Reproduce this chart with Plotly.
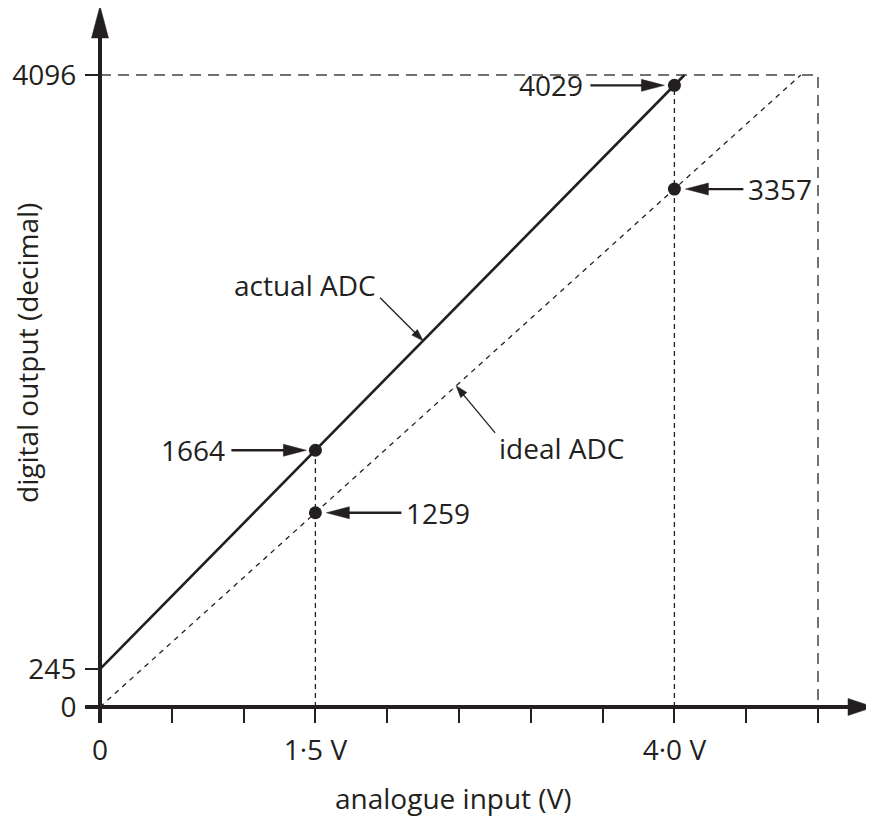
import numpy as np
import plotly.graph_objects as go

# ---------------- data ----------------
x_tick_vals = [0, 0.5, 1.0, 1.5, 2.0, 2.5, 3.0, 3.5, 4.0, 4.5, 5.0]
x_tick_text = ["0", "", "", "1·5 V", "", "", "", "", "4·0 V", "", ""]
y_tick_vals = [0, 245, 4096]
y_tick_text = ["0", "245", "4096"]

full_scale_v = 5.0
full_scale_code = 4096

marked_v = [1.5, 4.0]
actual_at_marked = [1664, 4029]
ideal_at_marked = [1259, 3357]

actual_x = [0, 1.5, 4.0, 4.07]
actual_y = [245, 1664, 4029, 4096]
ideal_x = [0, 1.5, 4.0, 4.88]
ideal_y = [0, 1259, 3357, 4096]

line_label_v = {"actual ADC": 2.25, "ideal ADC": 2.48}

# ---------------- geometry ----------------
PAGE_OFF = 8                      # default body margin of the page
W, H = 874 - PAGE_OFF, 818 - PAGE_OFF
ox_px, oy_px = 100 - PAGE_OFF, 707 - PAGE_OFF   # origin within the figure
px_per_v = 143.6
px_per_code = 632 / 4096
x_range = [-ox_px / px_per_v, (W - ox_px) / px_per_v]
y_range = [-(H - oy_px) / px_per_code, oy_px / px_per_code]

INK = "#231f20"
FONT = "Open Sans"
FS = 28

fig = go.Figure()

# dashed frame lines
fig.add_trace(go.Scatter(x=[0, full_scale_v, full_scale_v], y=[full_scale_code, full_scale_code, 0],
                         mode="lines", line=dict(color="#444", width=1.5, dash="11px,7px"),
                         hoverinfo="skip"))
# vertical guides
for v, c in zip(marked_v, actual_at_marked):
    fig.add_trace(go.Scatter(x=[v, v], y=[0, c], mode="lines",
                             line=dict(color=INK, width=1.3, dash="5px,4px"), hoverinfo="skip"))
# ideal line
fig.add_trace(go.Scatter(x=ideal_x, y=ideal_y, mode="lines",
                         line=dict(color=INK, width=1.3, dash="5px,5px"), hoverinfo="skip"))
# actual line
fig.add_trace(go.Scatter(x=actual_x, y=actual_y, mode="lines",
                         line=dict(color=INK, width=2.6), hoverinfo="skip"))
# dots
fig.add_trace(go.Scatter(x=marked_v + marked_v, y=actual_at_marked + ideal_at_marked, mode="markers",
                         marker=dict(color=INK, size=13), hoverinfo="skip"))

shapes = []


def arrow(xa, ya, tail, tip, head_len, head_half, width):
    """Arrow anchored at data point (xa, ya); tail/tip in pixel offsets (x right, y up)."""
    tx, ty = tail
    hx, hy = tip
    d = np.array([hx - tx, hy - ty], dtype=float)
    L = np.hypot(*d)
    u = d / L
    n = np.array([-u[1], u[0]])
    base = np.array([hx, hy]) - u * head_len
    shapes.append(dict(type="line", xref="x", yref="y", xsizemode="pixel", ysizemode="pixel",
                       xanchor=xa, yanchor=ya, x0=tx, y0=ty, x1=base[0] + u[0], y1=base[1] + u[1],
                       line=dict(color=INK, width=width), layer="above"))
    p1 = base + n * head_half
    p2 = base - n * head_half
    path = f"M{hx:.2f},{hy:.2f} L{p1[0]:.2f},{p1[1]:.2f} L{p2[0]:.2f},{p2[1]:.2f} Z"
    shapes.append(dict(type="path", xref="x", yref="y", xsizemode="pixel", ysizemode="pixel",
                       xanchor=xa, yanchor=ya, path=path, fillcolor=INK,
                       line=dict(color=INK, width=0.5), layer="above"))


# axes (thick lines with arrowheads)
shapes.append(dict(type="line", xref="x", yref="y", xsizemode="pixel", ysizemode="pixel",
                   xanchor=0, yanchor=0, x0=-15, y0=0, x1=752, y1=0,
                   line=dict(color=INK, width=4)))
shapes.append(dict(type="line", xref="x", yref="y", xsizemode="pixel", ysizemode="pixel",
                   xanchor=0, yanchor=0, x0=0, y0=-16, x1=0, y1=672,
                   line=dict(color=INK, width=4)))
shapes.append(dict(type="path", xref="x", yref="y", xsizemode="pixel", ysizemode="pixel",
                   xanchor=0, yanchor=0, path="M748,8.5 L774,0 L748,-8.5 Z", fillcolor=INK,
                   line=dict(color=INK, width=0.5)))
shapes.append(dict(type="path", xref="x", yref="y", xsizemode="pixel", ysizemode="pixel",
                   xanchor=0, yanchor=0, path="M-8.5,669 L0,701 L8.5,669 Z", fillcolor=INK,
                   line=dict(color=INK, width=0.5)))

annotations = []

# value call-outs
callouts = [
    (marked_v[0], actual_at_marked[0], "left", -88, (-84, 0), (-9, 0)),
    (marked_v[0], ideal_at_marked[0], "right", 89, (86, 0), (11, 0)),
    (marked_v[1], actual_at_marked[1], "left", -89, (-84, 0), (-10, 0)),
    (marked_v[1], ideal_at_marked[1], "right", 72, (69, 0), (11, 0)),
]
for xv, yv, side, shift, tail, tip in callouts:
    arrow(xv, yv, tail, tip, 23, 6, 2.3)
    annotations.append(dict(x=xv, y=yv, xref="x", yref="y", text=str(yv), showarrow=False,
                            xanchor="right" if side == "left" else "left", yanchor="middle",
                            xshift=shift, font=dict(family=FONT, size=FS, color=INK)))

# line labels
ax_v = line_label_v["actual ADC"]
ax_c = float(np.interp(ax_v, actual_x, actual_y))
arrow(ax_v, ax_c, (-43, 43), (0, 0), 12, 4, 1.3)
annotations.append(dict(x=ax_v, y=ax_c, xref="x", yref="y", text="actual ADC", showarrow=False,
                        xanchor="right", yanchor="middle", xshift=-45, yshift=56,
                        font=dict(family=FONT, size=FS, color=INK)))
id_v = line_label_v["ideal ADC"]
id_c = float(np.interp(id_v, ideal_x, ideal_y))
arrow(id_v, id_c, (39, -47), (0, 0), 12, 4, 1.3)
annotations.append(dict(x=id_v, y=id_c, xref="x", yref="y", text="ideal ADC", showarrow=False,
                        xanchor="left", yanchor="middle", xshift=41, yshift=-62,
                        font=dict(family=FONT, size=FS, color=INK)))

# axis titles (positions given in page pixels)
annotations.append(dict(x=(453 - PAGE_OFF) / W, y=1 - (798 - PAGE_OFF) / H, xref="paper", yref="paper",
                        text="analogue input (V)", showarrow=False, xanchor="center", yanchor="middle",
                        font=dict(family=FONT, size=FS, color=INK)))
annotations.append(dict(x=(27 - PAGE_OFF) / W, y=1 - (353 - PAGE_OFF) / H, xref="paper", yref="paper",
                        text="digital output (decimal)", showarrow=False, textangle=-90,
                        xanchor="center", yanchor="middle",
                        font=dict(family=FONT, size=FS, color=INK)))

fig.update_layout(
    width=W, height=H,
    margin=dict(l=0, r=0, t=0, b=0),
    paper_bgcolor="white", plot_bgcolor="white",
    showlegend=False,
    shapes=shapes, annotations=annotations,
    font=dict(family=FONT, size=FS, color=INK),
    xaxis=dict(range=x_range, domain=[0, 1], anchor="free", position=(H - oy_px) / H,
               showgrid=False, zeroline=False, showline=False,
               tickmode="array", tickvals=x_tick_vals, ticktext=x_tick_text,
               ticks="outside", ticklen=15, tickwidth=1.5, tickcolor=INK,
               ticklabelstandoff=3, automargin=False,
               tickfont=dict(family=FONT, size=FS, color=INK)),
    yaxis=dict(range=y_range, domain=[0, 1], anchor="free", position=ox_px / W,
               showgrid=False, zeroline=False, showline=False,
               tickmode="array", tickvals=y_tick_vals, ticktext=y_tick_text,
               ticks="outside", ticklen=15, tickwidth=1.5, tickcolor=INK,
               ticklabelstandoff=3, automargin=False,
               tickfont=dict(family=FONT, size=FS, color=INK)),
)

fig.write_html("out.html")
